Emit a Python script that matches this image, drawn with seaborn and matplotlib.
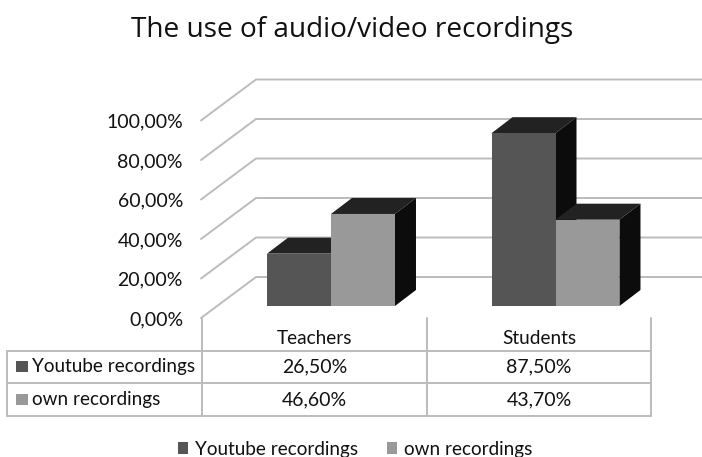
import matplotlib
matplotlib.use('Agg')
import pandas as pd
import matplotlib.pyplot as plt
import seaborn as sns
from matplotlib.patches import Polygon

groups = ['Teachers', 'Students']
series_names = ['Youtube recordings', 'own recordings']
youtube = [26.5, 87.5]
own = [46.6, 43.7]
y_ticks = [0, 20, 40, 60, 80, 100]

W, H = 702, 457
PX_PER_CAT = 224.5
PX_PER_PCT = 1.975
X0, Y0 = 331, 306  # pixel of category 0 / value 0 on bar front


def px(x):
    return (x - X0) / PX_PER_CAT


def py(y):
    return (Y0 - y) / PX_PER_PCT


df = pd.DataFrame({
    'group': groups * 2,
    'series': [series_names[0]] * 2 + [series_names[1]] * 2,
    'value': youtube + own,
})

sns.set_style('white')
plt.rcParams['font.family'] = ['Lato', 'DejaVu Sans']
line_col = '#bcbcbc'
text_col = '#111111'
lw = 1.4

fig = plt.figure(figsize=(W / 100, H / 100), dpi=100)
ax = fig.add_axes([0, 0, 1, 1])
sns.barplot(data=df, x='group', y='value', hue='series', palette=['#555555', '#999999'],
            width=0.57, gap=0, saturation=1, linewidth=0, ax=ax)
ax.set_xlim(px(0), px(W))
ax.set_ylim(py(H), py(0))
ax.axis('off')

# back wall and floor gridlines
for v in y_ticks:
    wall_y = py(277) + v
    ax.plot([px(201), px(256), px(W)], [py(318) + v, wall_y, wall_y],
            color=line_col, lw=lw, zorder=1, solid_joinstyle='miter')
    ax.text(px(183), py(319.5) + v, f'{v:.2f}'.replace('.', ',') + '%', ha='right', va='center',
            fontsize=14, color=text_col)

# depth faces of the bars
dx, dy = px(X0 + 21), 16 / PX_PER_PCT
for i, cont in enumerate(ax.containers):
    base_z = 2 + i * 2
    for bar in cont:
        x, w, h = bar.get_x(), bar.get_width(), bar.get_height()
        bar.set_zorder(base_z + 1)
        top = [(x, h), (x + w, h), (x + w + dx, h + dy), (x + dx, h + dy)]
        side = [(x + w, 0), (x + w, h), (x + w + dx, h + dy), (x + w + dx, dy)]
        ax.add_patch(Polygon(top, color='#222222', lw=0, zorder=base_z))
        ax.add_patch(Polygon(side, color='#0c0c0c', lw=0, zorder=base_z))

# data table
col_x = [7, 202, 427, 651]
row_y = [350.5, 383, 416]
for r in row_y:
    ax.plot([px(7), px(651)], [py(r)] * 2, color=line_col, lw=lw, zorder=1)
ax.plot([px(7), px(7)], [py(row_y[0]), py(row_y[2])], color=line_col, lw=lw, zorder=1)
for c in col_x[1:]:
    ax.plot([px(c), px(c)], [py(318), py(row_y[2])], color=line_col, lw=lw, zorder=1)

for j, g in enumerate(groups):
    ax.text(px((col_x[j + 1] + col_x[j + 2]) / 2), py(338.5), g, ha='center', va='center',
            fontsize=13.7, color=text_col)

for r, (name, vals, col) in enumerate(zip(series_names, [youtube, own], ['#555555', '#999999'])):
    yc = (row_y[r] + row_y[r + 1]) / 2
    ax.add_patch(Polygon([(px(16), py(yc - 6)), (px(28), py(yc - 6)), (px(28), py(yc + 5)), (px(16), py(yc + 5))],
                         color=col, lw=0, zorder=2))
    ax.text(px(32), py(yc), name, ha='left', va='center', fontsize=13.6, color=text_col)
    for j, v in enumerate(vals):
        ax.text(px((col_x[j + 1] + col_x[j + 2]) / 2), py(yc), f'{v:.2f}'.replace('.', ',') + '%',
                ha='center', va='center', fontsize=14, color=text_col)

ax.text(px(352), py(30), 'The use of audio/video recordings', ha='center', va='center',
        fontsize=20.2, color=text_col, family=['Open Sans', 'DejaVu Sans'])

handles, labels = ax.get_legend_handles_labels()
ax.legend(handles, labels, ncol=2, frameon=False, fontsize=13.6, loc='center',
          bbox_to_anchor=(355 / W, 1 - 449 / H), handlelength=0.55, handleheight=0.6,
          handletextpad=0.35, columnspacing=1.55, labelcolor=text_col)

fig.savefig('out.png', dpi=100)
